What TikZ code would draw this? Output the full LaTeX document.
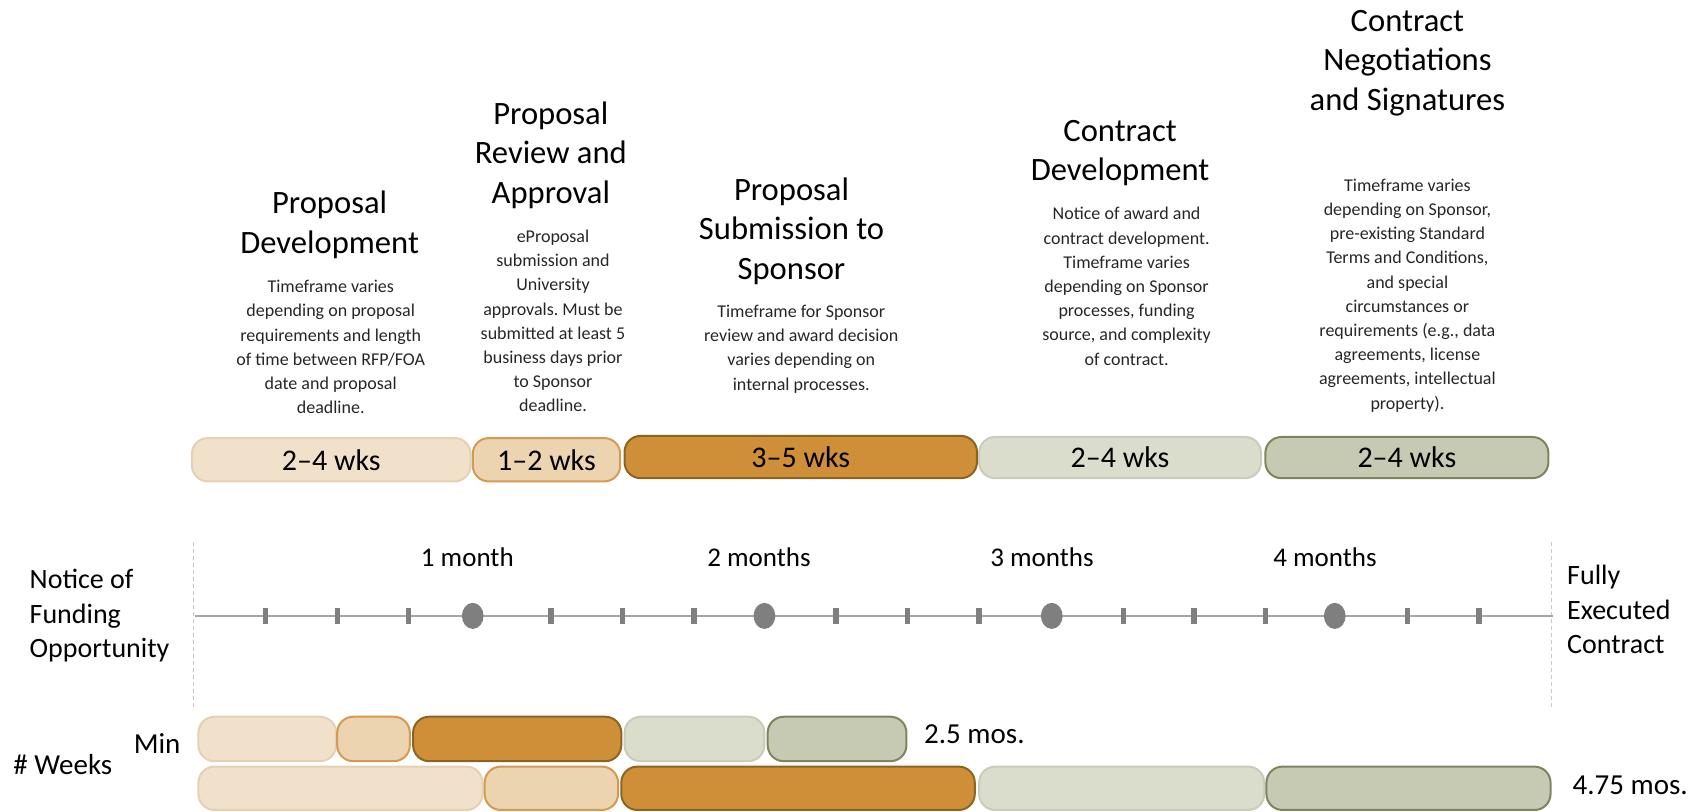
\documentclass[tikz,border=0pt]{standalone}
\usepackage{fontspec}
\setmainfont{Carlito}
\usetikzlibrary{shapes.geometric}
\frenchspacing
\definecolor{cA}{HTML}{F2E1CA}
\definecolor{cAd}{HTML}{E3D0B5}
\definecolor{cB}{HTML}{EDD4B0}
\definecolor{cBd}{HTML}{D49A52}
\definecolor{cC}{HTML}{CF8F38}
\definecolor{cCd}{HTML}{8B6422}
\definecolor{cD}{HTML}{DADDCC}
\definecolor{cDd}{HTML}{C9CCBA}
\definecolor{cE}{HTML}{C7CAB2}
\definecolor{cEd}{HTML}{7E855E}
\definecolor{axisgray}{HTML}{A6A6A6}
\definecolor{tickgray}{HTML}{7F7F7F}
\definecolor{dashgray}{HTML}{C8C8C8}
\definecolor{desctext}{HTML}{262626}
\newlength{\pu}
\setlength{\pu}{0.5421pt}
\newcommand\ttlf{\fontsize{16.3}{19.8}\selectfont}
\newcommand\dscf{\fontsize{9}{12.1}\selectfont}
\newcommand\barf{\fontsize{15}{18}\selectfont}
\newcommand\monf{\fontsize{13.5}{16}\selectfont}
\newcommand\lblf{\fontsize{14}{17.3}\selectfont}
\newcommand\mosf{\fontsize{14.5}{17}\selectfont}
% name, x1, y1, x2, y2, fill, draw, text
\newcommand\pbar[8]{%
  \node[barsty, fill=#6, draw=#7, minimum width={(#4-#2)*\pu}, minimum height={(#5-#3)*\pu}] (#1) at ({(#2+#4)/2},{(#3+#5)/2}) {#8};}
\begin{document}
\begin{tikzpicture}[x=0.5421pt, y=-0.5421pt,
  barsty/.style={rounded corners=8pt, line width=1pt, inner sep=0pt, font=\barf},
  ttl/.style={align=center, inner sep=0pt, font=\ttlf, text=black},
  dsc/.style={align=center, inner sep=0pt, font=\dscf, text=desctext},
  lbl/.style={align=left, inner sep=0pt, anchor=west, font=\lblf, text=black},
  mon/.style={inner sep=0pt, font=\monf, text=black},
  mos/.style={inner sep=0pt, anchor=west, font=\mosf, text=black},
  tick/.style={fill=tickgray, draw=none},
  dot/.style={ellipse, fill=tickgray, draw=none, minimum width={20*\pu}, minimum height={24*\pu}, inner sep=0pt}]
\useasboundingbox (0,0) rectangle (1566,748);

% titles and descriptions
\node[ttl] (t1) at (304,207.5) {Proposal\\Development};
\node[dsc] (d1) at (305,320) {Timeframe varies\\depending on proposal\\requirements and length\\of time between RFP/FOA\\date and proposal\\deadline.};
\node[ttl] (t2) at (508,143) {Proposal\\Review and\\Approval};
\node[dsc] (d2) at (510,296) {eProposal\\submission and\\University\\approvals. Must be\\submitted at least 5\\business days prior\\to Sponsor\\deadline.};
\node[ttl] (t3) at (730,213) {Proposal\\Submission to\\Sponsor};
\node[dsc] (d3) at (739,322) {Timeframe for Sponsor\\review and award decision\\varies depending on\\internal processes.};
\node[ttl] (t4) at (1033,141) {Contract\\Development};
\node[dsc] (d4) at (1039,264) {Notice of award and\\contract development.\\Timeframe varies\\depending on Sponsor\\processes, funding\\source, and complexity\\of contract.};
\node[ttl] (t5) at (1298,58) {Contract\\Negotiations\\and Signatures};
\node[dsc] (d5) at (1298,272.5) {Timeframe varies\\depending on Sponsor,\\pre-existing Standard\\Terms and Conditions,\\and special\\circumstances or\\requirements (e.g., data\\agreements, license\\agreements, intellectual\\property).};

% top bars
\pbar{b1}{177}{404}{434}{444}{cA}{cAd}{2–4 wks}
\pbar{b2}{436}{404}{572}{444}{cB}{cBd}{1–2 wks}
\pbar{b3}{576}{402}{901}{441}{cC}{cCd}{3–5 wks}
\pbar{b4}{903}{403}{1163}{441}{cD}{cDd}{2–4 wks}
\pbar{b5}{1167}{403}{1428}{441}{cE}{cEd}{2–4 wks}

% timeline
\coordinate (vl0) at (178,500);
\coordinate (vl1) at (178,652);
\coordinate (vr0) at (1431,500);
\coordinate (vr1) at (1431,652);
\draw[dashgray, line width=0.5pt, dash pattern=on 2pt off 1.5pt] (vl0) -- (vl1);
\draw[dashgray, line width=0.5pt, dash pattern=on 2pt off 1.5pt] (vr0) -- (vr1);
\coordinate (ax0) at (180,568);
\coordinate (ax1) at (1432,568);
\draw[axisgray, line width=1pt] (ax0) -- (ax1);
\foreach \x in {245,311,377,508,574,640,771,837,903,1036,1101,1167,1298,1364}
  \fill[tick] (\x-2.5,560.5) rectangle (\x+2.5,575.5);
\node[dot] (m1) at (436,568) {};
\node[dot] (m2) at (705,568) {};
\node[dot] (m3) at (970,568) {};
\node[dot] (m4) at (1231,568) {};
\node[mon] (l1) at (431,514) {1 month};
\node[mon] (l2) at (700,514) {2 months};
\node[mon] (l3) at (961,514) {3 months};
\node[mon] (l4) at (1222,514) {4 months};
\node[lbl] (start) at (27,568) {Notice of\\Funding\\Opportunity};
\node[lbl] (end) at (1445,562) {Fully\\Executed\\Contract};

% bottom rows
\node[mos] (wk) at (12,705) {\# Weeks};
\node[mos] (mn) at (123,686) {Min};
\pbar{n1}{183}{661}{310}{702}{cA}{cAd}{}
\pbar{n2}{311}{661}{378}{702}{cB}{cBd}{}
\pbar{n3}{381}{661}{573}{702}{cC}{cCd}{}
\pbar{n4}{576}{661}{705}{702}{cD}{cDd}{}
\pbar{n5}{708}{661}{836}{702}{cE}{cEd}{}
\node[mos] (mnt) at (852,677) {2.5 mos.};
\pbar{x1}{183}{707}{445}{747}{cA}{cAd}{}
\pbar{x2}{447}{707}{570}{747}{cB}{cBd}{}
\pbar{x3}{573}{707}{899}{747}{cC}{cCd}{}
\pbar{x4}{903}{707}{1166}{747}{cD}{cDd}{}
\pbar{x5}{1168}{707}{1430}{747}{cE}{cEd}{}
\node[mos] (mxt) at (1450,724) {4.75 mos.};
\end{tikzpicture}
\end{document}
